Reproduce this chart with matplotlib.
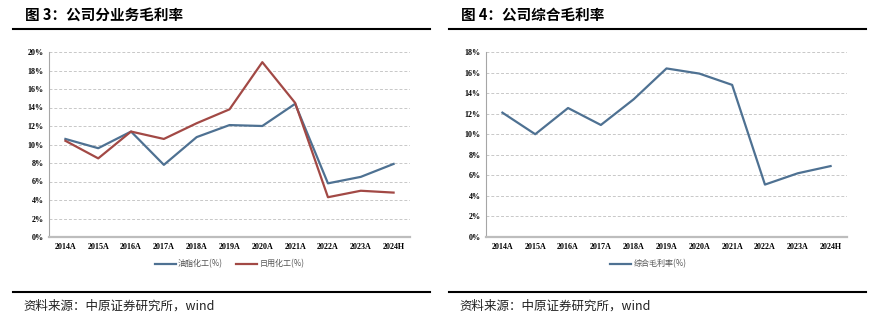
import matplotlib
matplotlib.use("Agg")
import matplotlib.pyplot as plt
from matplotlib.lines import Line2D

plt.rcParams['font.family'] = ['Noto Sans CJK SC', 'DejaVu Sans']

# data
years = ['2014A', '2015A', '2016A', '2017A', '2018A', '2019A', '2020A',
         '2021A', '2022A', '2023A', '2024H']
oleo_margin = [10.6, 9.6, 11.4, 7.8, 10.8, 12.1, 12.0, 14.4, 5.8, 6.5, 7.9]
daily_margin = [10.4, 8.5, 11.4, 10.6, 12.3, 13.8, 18.9, 14.5, 4.3, 5.0, 4.8]
total_margin = [12.1, 10.0, 12.55, 10.9, 13.4, 16.4, 15.9, 14.8, 5.1, 6.2, 6.9]

left_ticks = list(range(0, 21, 2))
right_ticks = list(range(0, 19, 2))

blue = '#4e7192'
red = '#a24945'
tick_font = ['Liberation Serif', 'Noto Sans CJK SC']

W, H = 875, 325
fig = plt.figure(figsize=(W / 100, H / 100), dpi=100)


def px_axes(x0, x1, ytop, ybot):
    return fig.add_axes([x0 / W, 1 - ybot / H, (x1 - x0) / W, (ybot - ytop) / H])


def style(ax, ticks):
    x = range(len(years))
    ax.set_xlim(-0.5, len(years) - 0.5)
    ax.set_ylim(ticks[0], ticks[-1])
    ax.set_xticks(list(x))
    ax.set_xticklabels(years, family=tick_font, fontsize=5.8, fontweight='bold')
    ax.set_yticks(ticks)
    ax.set_yticklabels([f'{t}%' for t in ticks], family=tick_font,
                       fontsize=5.8, fontweight='bold')
    ax.tick_params(length=0, pad=4)
    for t in ticks[1:]:
        ax.axhline(t, color='#c8c8c8', lw=0.7, ls=(0, (3, 2)), zorder=0)
    for s in ['top', 'right']:
        ax.spines[s].set_visible(False)
    ax.spines['left'].set_color('#a6a6a6')
    ax.spines['left'].set_linewidth(0.8)
    ax.spines['bottom'].set_color('#bdbdbd')
    ax.spines['bottom'].set_linewidth(1.6)


# left panel: margins by business
ax1 = px_axes(49, 410, 52, 237)
style(ax1, left_ticks)
ax1.plot(range(len(years)), oleo_margin, color=blue, lw=1.6, label='油脂化工(%)')
ax1.plot(range(len(years)), daily_margin, color=red, lw=1.6, label='日用化工(%)')
leg1 = ax1.legend(loc='center', bbox_to_anchor=(0.5, -0.145), ncol=2, frameon=False,
                  fontsize=5.8, handlelength=2.6, handletextpad=0.3, columnspacing=1.6)
for t in leg1.get_texts():
    t.set_color('#555555')

# right panel: overall margin
ax2 = px_axes(486, 847, 52, 237)
style(ax2, right_ticks)
ax2.plot(range(len(years)), total_margin, color=blue, lw=1.6, label='综合毛利率(%)')
leg2 = ax2.legend(loc='center', bbox_to_anchor=(0.45, -0.145), frameon=False,
                  fontsize=5.8, handlelength=2.6, handletextpad=0.3)
for t in leg2.get_texts():
    t.set_color('#555555')

# titles, rules and source lines
for x0, x1, title in [(13, 430, '图 3：公司分业务毛利率'), (449, 866, '图 4：公司综合毛利率')]:
    fig.text((x0 + 12) / W, 1 - 15 / H, title, fontsize=10.5, fontweight='bold',
             va='center', ha='left')
    fig.add_artist(Line2D([x0 / W, x1 / W], [1 - 29 / H] * 2, color='black', lw=1.5))
    fig.add_artist(Line2D([x0 / W, x1 / W], [1 - 292 / H] * 2, color='black', lw=1.5))
    fig.text((x0 + 10) / W, 1 - 306 / H, '资料来源：中原证券研究所，wind',
             fontsize=9, va='center', ha='left', color='#222222')

fig.savefig('out.png', dpi=100)
